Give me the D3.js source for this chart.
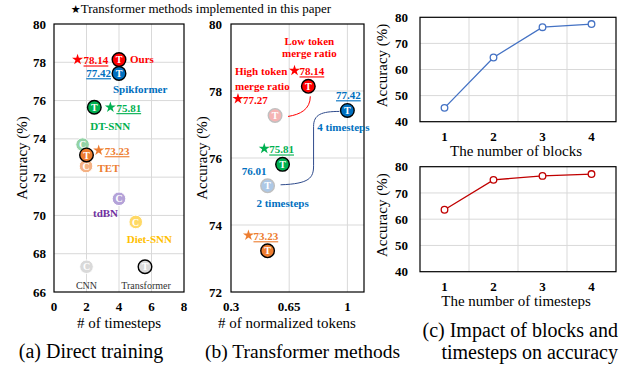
<!DOCTYPE html>
<meta charset="utf-8">
<style>
    body { margin: 0; background: #fff; }
    svg text { font-family: "Liberation Serif", "Times New Roman", Times, serif; }
    .grid line { stroke: #d9d9d9; stroke-width: 1; }
    .frame { fill: none; stroke: #000; stroke-width: 1.2; }
    .tick { font-weight: bold; font-size: 13px; }
    .lab { font-weight: bold; font-size: 11px; }
    .cap { font-size: 20px; }
    .ttl { font-size: 15px; }
</style>
<svg width="631" height="366"></svg>
<script src="https://d3js.org/d3.v7.min.js"></script>
<script>
    // (a) direct training: timesteps vs accuracy
    var aNames = ["CNN", "Diet-SNN", "tdBN", "TET-C", "DT-C", "Transformer", "TET", "DT-SNN", "Spikformer", "Ours"];
    var aSteps = [2, 5.03, 4, 1.97, 1.76, 5.6, 2, 2.48, 4, 4];
    var aAcc = [67.32, 69.66, 70.87, 72.58, 73.7, 67.32, 73.16, 75.65, 77.42, 78.14];
    var aKind = ["C", "C", "C", "C", "C", "T", "T", "T", "T", "T"];
    var aFill = ["#d9d9d9", "#ffd966", "#b4a2d8", "#f4b183", "#93d3a6", "#d9d9d9", "#ed7d31", "#00b050", "#0070c0", "#ff0000"];
    var aOutline = [false, false, false, false, false, true, true, true, true, true];
    // star values for transformer methods implemented in this paper
    var aStarVal = ["78.14", "75.81", "73.23"];
    var aStarSteps = [1.45, 3.47, 2.75];
    var aStarAcc = [78.14, 75.65, 73.4];
    var aStarColor = ["#ff0000", "#00b050", "#ed7d31"];

    // (b) transformer methods: normalized tokens vs accuracy
    var bTokens = [0.52, 0.565, 0.52, 0.61, 1.0, 0.765];
    var bAcc = [73.23, 77.27, 75.17, 75.81, 77.42, 78.14];
    var bFill = ["#ed7d31", "#f5b4b4", "#adc8e6", "#00b050", "#0070c0", "#ff0000"];
    var bFaded = [false, true, true, false, false, false];
    var bStarVal = ["73.23", "75.81", "77.27", "78.14"];
    var bStarTok = [0.405, 0.5, 0.342, 0.682];
    var bStarAcc = [73.69, 76.28, 77.77, 78.61];
    var bStarColor = ["#ed7d31", "#00b050", "#ff0000", "#ff0000"];
    var bStarUnder = [true, true, false, true];

    // (c) impact of blocks and timesteps
    var cX = [1, 2, 3, 4];
    var cBlocks = [45.3, 64.6, 76.2, 77.42];
    var cSteps = [63.6, 75.0, 76.5, 77.2];

    var svg = d3.select("svg");
    var star = d3.symbol().type(d3.symbolStar).size(38);

    function grid(g, xs, ys, x, y) {
        var gg = g.append("g").attr("class", "grid");
        gg.selectAll(".v").data(xs).enter().append("line")
            .attr("x1", d => x(d)).attr("x2", d => x(d))
            .attr("y1", y.range()[0]).attr("y2", y.range()[1]);
        gg.selectAll(".h").data(ys).enter().append("line")
            .attr("y1", d => y(d)).attr("y2", d => y(d))
            .attr("x1", x.range()[0]).attr("x2", x.range()[1]);
    }

    function frame(g, x, y) {
        g.append("rect").attr("class", "frame")
            .attr("x", x.range()[0]).attr("y", y.range()[1])
            .attr("width", x.range()[1] - x.range()[0])
            .attr("height", y.range()[0] - y.range()[1]);
    }

    function yTicks(g, y, vals, right) {
        g.selectAll(".yt").data(vals).enter().append("text").attr("class", "tick")
            .attr("x", right).attr("y", d => y(d)).attr("dy", "0.35em")
            .attr("text-anchor", "end").text(d => d);
    }

    function xTicks(g, x, vals, labels, ty) {
        g.selectAll(".xt").data(vals).enter().append("text").attr("class", "tick")
            .attr("x", d => x(d)).attr("y", ty)
            .attr("text-anchor", "middle").text((d, i) => labels[i]);
    }

    function vTitle(g, cx, cy, txt) {
        g.append("text").attr("class", "ttl")
            .attr("transform", "translate(" + cx + "," + cy + ") rotate(-90)")
            .attr("text-anchor", "middle").attr("dy", "0.35em").text(txt);
    }

    function label(g, x, y, txt, color, opts) {
        opts = opts || {};
        var t = g.append("text").attr("class", "lab")
            .attr("x", x).attr("y", y).attr("dy", "0.35em")
            .attr("fill", color).attr("text-anchor", opts.anchor || "start")
            .text(txt);
        if (opts.under) t.attr("text-decoration", "underline");
        if (opts.plain) t.style("font-weight", "normal").style("font-size", "10px");
        return t;
    }

    function bubble(g, cx, cy, fill, letter, outline) {
        g.append("circle").attr("cx", cx).attr("cy", cy).attr("r", 6.8)
            .attr("fill", fill)
            .attr("stroke", outline || "#fff")
            .attr("stroke-width", outline ? 1.4 : 1);
        g.append("text").attr("x", cx).attr("y", cy).attr("dy", "0.36em")
            .attr("text-anchor", "middle").attr("fill", "#fff")
            .style("font-weight", "bold").style("font-size", "10px").text(letter);
    }

    // top note
    var note = svg.append("text").attr("x", 201).attr("y", 13)
        .attr("text-anchor", "middle").style("font-size", "13px");
    note.append("tspan").style("font-family", "DejaVu Sans").style("font-size", "11px").text("\u2605");
    note.append("tspan").text("Transformer methods implemented in this paper");

    // ---------- (a) ----------
    var ga = svg.append("g");
    var xa = d3.scaleLinear().domain([0, 8]).range([54, 184]);
    var ya = d3.scaleLinear().domain([66, 80]).range([292, 24]);
    grid(ga, [2, 4, 6], [68, 70, 72, 74, 76, 78], xa, ya);
    frame(ga, xa, ya);
    yTicks(ga, ya, [66, 68, 70, 72, 74, 76, 78, 80], 46);
    xTicks(ga, xa, [0, 2, 4, 6, 8], ["0", "2", "4", "6", "8"], 311);
    vTitle(ga, 22, 158, "Accuracy (%)");
    ga.append("text").attr("class", "ttl").attr("x", 119).attr("y", 328)
        .attr("text-anchor", "middle").text("# of timesteps");
    ga.append("text").attr("class", "cap").attr("x", 91).attr("y", 358)
        .attr("text-anchor", "middle").text("(a) Direct training");

    aNames.forEach(function (n, i) {
        bubble(ga, xa(aSteps[i]), ya(aAcc[i]), aFill[i], aKind[i], aOutline[i] ? "#000" : null);
    });
    aStarVal.forEach(function (v, i) {
        var sx = xa(aStarSteps[i]), sy = ya(aStarAcc[i]);
        ga.append("path").attr("d", star).attr("transform", "translate(" + sx + "," + sy + ")")
            .attr("fill", aStarColor[i]);
        label(ga, sx + 6, sy + 1, v, aStarColor[i], { under: true });
    });
    var pa = (i) => [xa(aSteps[i]), ya(aAcc[i])];
    label(ga, pa(9)[0] + 11, pa(9)[1], "Ours", "#ff0000");
    label(ga, pa(8)[0] - 8, pa(8)[1], "77.42", "#0070c0", { under: true, anchor: "end" });
    label(ga, pa(8)[0] - 6, pa(8)[1] + 16, "Spikformer", "#0070c0");
    label(ga, pa(7)[0] - 4, pa(7)[1] + 19, "DT-SNN", "#00b050");
    label(ga, pa(6)[0] + 11, pa(6)[1] + 13, "TET", "#ed7d31");
    label(ga, pa(2)[0] - 26, pa(2)[1] + 14, "tdBN", "#7030a0");
    label(ga, pa(1)[0] - 9, pa(1)[1] + 17, "Diet-SNN", "#ffc000");
    label(ga, pa(0)[0], pa(0)[1] + 19, "CNN", "#333", { plain: true, anchor: "middle" });
    label(ga, pa(5)[0] + 1, pa(5)[1] + 19, "Transformer", "#333", { plain: true, anchor: "middle" });

    // ---------- (b) ----------
    var gb = svg.append("g");
    var xb = d3.scaleLinear().domain([0.3, 1.1]).range([231, 364]);
    var yb = d3.scaleLinear().domain([72, 80]).range([292, 24]);
    grid(gb, [0.65, 1], [74, 76, 78], xb, yb);
    frame(gb, xb, yb);
    yTicks(gb, yb, [72, 74, 76, 78, 80], 222);
    xTicks(gb, xb, [0.3, 0.65, 1], ["0.3", "0.65", "1"], 311);
    vTitle(gb, 202, 158, "Accuracy (%)");
    gb.append("text").attr("class", "ttl").attr("x", 287).attr("y", 328)
        .attr("text-anchor", "middle").text("# of normalized tokens");
    gb.append("text").attr("class", "cap").attr("x", 205).attr("y", 358)
        .style("font-size", "19.5px")
        .text("(b) Transformer methods");

    var pb = (i) => [xb(bTokens[i]), yb(bAcc[i])];
    // connectors
    var r0 = pb(1), r1 = pb(5);
    gb.append("path").attr("fill", "none").attr("stroke", "#ff0000").attr("stroke-width", 1)
        .attr("d", "M" + (r0[0] + 13) + "," + (r0[1] + 1) + " C" + (r1[0] - 8) + "," + (r0[1] - 1) + " " +
            (r1[0] + 2) + "," + (r0[1] - 6) + " " + (r1[0] + 2) + "," + (r1[1] + 10));
    var b0 = pb(2), b1 = pb(4);
    var bx = b0[0] + 46;
    gb.append("path").attr("fill", "none").attr("stroke", "#2f4b8c").attr("stroke-width", 1)
        .attr("d", "M" + (b0[0] + 13) + "," + (b0[1] - 1) + " C" + (bx - 4) + "," + (b0[1] - 2) + " " +
            bx + "," + (b0[1] - 8) + " " + bx + "," + (b0[1] - 20) +
            " L" + bx + "," + (b1[1] + 16) + " C" + bx + "," + (b1[1] + 4) + " " +
            (bx + 8) + "," + (b1[1] + 1) + " " + (b1[0] - 8) + "," + (b1[1] + 1));

    bAcc.forEach(function (v, i) {
        bubble(gb, pb(i)[0], pb(i)[1], bFill[i], "T", bFaded[i] ? "#c0c0c0" : "#000");
    });
    bStarVal.forEach(function (v, i) {
        var sx = xb(bStarTok[i]), sy = yb(bStarAcc[i]);
        gb.append("path").attr("d", star).attr("transform", "translate(" + sx + "," + sy + ")")
            .attr("fill", bStarColor[i]);
        label(gb, sx + 5, sy + 1, v, bStarColor[i], { under: bStarUnder[i] });
    });
    label(gb, r1[0] + 1, r1[1] - 45, "Low token", "#ff0000", { anchor: "middle" });
    label(gb, r1[0] + 1, r1[1] - 33, "merge ratio", "#ff0000", { anchor: "middle" });
    label(gb, 235, r1[1] - 15, "High token", "#ff0000");
    label(gb, 235, r1[1] - 0.5, "merge ratio", "#ff0000");
    label(gb, b1[0] + 1, b1[1] - 15, "77.42", "#0070c0", { under: true, anchor: "middle" });
    label(gb, b1[0] - 4, b1[1] + 17, "4 timesteps", "#0070c0", { anchor: "middle" });
    label(gb, b0[0] - 1, b0[1] - 15, "76.01", "#0070c0", { anchor: "end" });
    label(gb, b0[0] + 15, b0[1] + 17, "2 timesteps", "#0070c0", { anchor: "middle" });

    // ---------- (c) ----------
    function lineChart(g, vals, y0, y1, color, title) {
        var x = d3.scaleLinear().domain([0.5, 4.5]).range([420, 616]);
        var y = d3.scaleLinear().domain([40, 80]).range([y1, y0]);
        grid(g, [1.5, 2.5, 3.5], [50, 60, 70], x, y);
        frame(g, x, y);
        yTicks(g, y, [40, 50, 60, 70, 80], 408);
        xTicks(g, x, cX, cX.map(String), y1 + 19.5);
        vTitle(g, 382, (y0 + y1) / 2 - 4, "Accuracy (%)");
        g.append("text").attr("class", "ttl").attr("x", 516).attr("y", y1 + 34)
            .attr("text-anchor", "middle").text(title);
        g.append("path").datum(vals).attr("fill", "none").attr("stroke", color).attr("stroke-width", 1.3)
            .attr("d", d3.line().x((d, i) => x(cX[i])).y(d => y(d)));
        g.selectAll(".pt").data(vals).enter().append("circle")
            .attr("cx", (d, i) => x(cX[i])).attr("cy", d => y(d)).attr("r", 3.3)
            .attr("fill", "#fff").attr("stroke", color).attr("stroke-width", 1.3);
    }
    lineChart(svg.append("g"), cBlocks, 17.3, 121.7, "#4472c4", "The number of blocks");
    lineChart(svg.append("g"), cSteps, 166.7, 271.7, "#c00000", "The number of timesteps");
    svg.append("text").attr("class", "cap").attr("x", 618).attr("y", 337)
        .attr("text-anchor", "end").text("(c) Impact of blocks and");
    svg.append("text").attr("class", "cap").attr("x", 618).attr("y", 359)
        .attr("text-anchor", "end").text("timesteps on accuracy");
</script>
